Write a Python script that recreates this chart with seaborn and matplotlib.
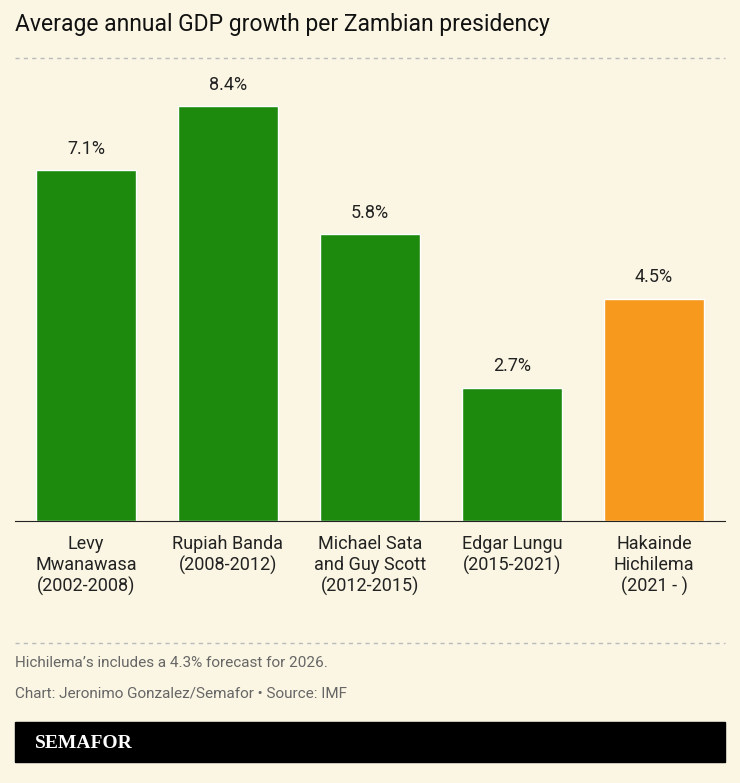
import matplotlib
matplotlib.use("Agg")
import matplotlib.pyplot as plt
import seaborn as sns
import pandas as pd
from matplotlib.patches import Rectangle
from matplotlib.lines import Line2D

presidents = ["Levy\nMwanawasa\n(2002-2008)", "Rupiah Banda\n(2008-2012)",
              "Michael Sata\nand Guy Scott\n(2012-2015)", "Edgar Lungu\n(2015-2021)",
              "Hakainde\nHichilema\n(2021 - )"]
growth = [7.1, 8.4, 5.8, 2.7, 4.5]
colors = ["#1d8a0d", "#1d8a0d", "#1d8a0d", "#1d8a0d", "#f7991c"]

df = pd.DataFrame({"president": presidents, "growth": growth})

bg = "#fbf6e3"
sns.set_style("white")
plt.rcParams['font.family'] = ['Roboto', 'DejaVu Sans']

fig = plt.figure(figsize=(7.4, 7.83), dpi=100, facecolor=bg)
W, H = 740, 783
ax = fig.add_axes([15 / W, 1 - 521 / H, 710 / W, (521 - 60) / H])
ax.set_facecolor(bg)
sns.barplot(data=df, x="president", y="growth", hue="president", palette=colors,
            legend=False, width=0.7, saturation=1, ax=ax)
ax.set_ylim(0, (521 - 60) / 49.4)
ax.set_xlim(-0.5, 4.5)
for i, v in enumerate(growth):
    ax.text(i, v + 0.25, f"{v}%", ha="center", va="bottom", fontsize=13, color="#222222")
for s in ["top", "right", "left"]:
    ax.spines[s].set_visible(False)
ax.spines["bottom"].set_color("#222222")
ax.set_yticks([])
ax.set_xlabel("")
ax.set_ylabel("")
ax.tick_params(axis="x", length=0, pad=10, labelsize=13, labelcolor="#222222")

fig.text(15 / W, 1 - 25 / H, "Average annual GDP growth per Zambian presidency",
         fontsize=16.5, color="#111111", va="center")
for y in (58, 643):
    fig.add_artist(Line2D([15 / W, 725 / W], [1 - y / H] * 2, color="#bbbbbb",
                          lw=1, ls=(0, (3, 3))))
fig.text(15 / W, 1 - 663 / H, "Hichilema’s includes a 4.3% forecast for 2026.",
         fontsize=11, color="#666666", va="center")
fig.text(15 / W, 1 - 693 / H, "Chart: Jeronimo Gonzalez/Semafor • Source: IMF",
         fontsize=11, color="#666666", va="center")
fig.add_artist(Rectangle((15 / W, 1 - 762 / H), 710 / W, 40 / H, color="black",
                         transform=fig.transFigure))
fig.text(35 / W, 1 - 743 / H, "SEMAFOR", fontsize=14, color="white", va="center",
         fontweight="bold", family=["Liberation Serif", "DejaVu Serif"])

fig.savefig("out.png", dpi=100, facecolor=bg)
